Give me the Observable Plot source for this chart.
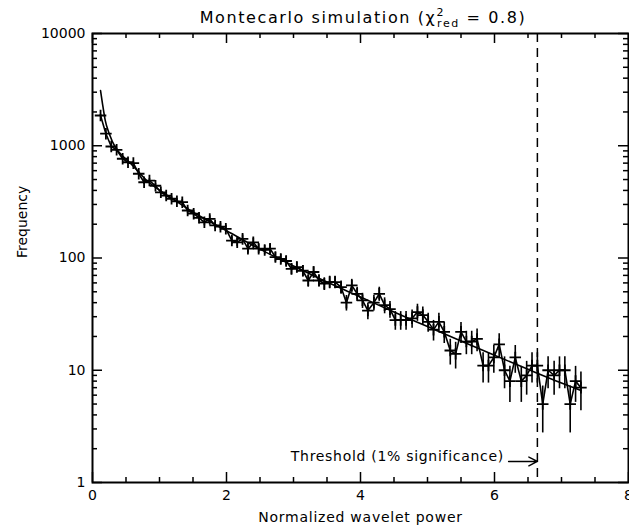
<!DOCTYPE html>
<html><head><meta charset="utf-8">
<script src="https://cdn.jsdelivr.net/npm/d3@7"></script>
<script src="https://cdn.jsdelivr.net/npm/@observablehq/plot@0.6"></script>
<style>
html,body{margin:0;padding:0;background:#fff;overflow:hidden;}
</style></head><body><div id="chart"></div>
<script>
// ---- data ----
const binCenters = [0.12,0.20,0.28,0.36,0.45,0.53,0.61,0.69,0.77,0.85,0.94,1.02,1.10,1.18,1.26,1.34,1.42,1.51,1.59,1.67,1.75,1.83,1.91,1.99,2.08,2.16,2.24,2.32,2.40,2.48,2.57,2.65,2.73,2.81,2.89,2.97,3.05,3.14,3.22,3.30,3.38,3.46,3.54,3.62,3.71,3.79,3.87,3.95,4.03,4.11,4.20,4.28,4.36,4.44,4.52,4.60,4.68,4.77,4.85,4.93,5.01,5.09,5.17,5.25,5.34,5.42,5.50,5.58,5.66,5.74,5.83,5.91,5.99,6.07,6.15,6.23,6.31,6.40,6.48,6.56,6.64,6.72,6.80,6.89,6.97,7.05,7.13,7.21,7.29];
const counts = [1860,1280,985,920,766,713,700,563,473,490,440,385,360,337,320,314,265,248,228,208,223,195,190,182,143,138,148,121,138,121,118,121,102,98,94,80,83,77,63,75,63,59,61,61,55,40,57,48,42,34,40,48,38,35,28,28,28,29,33,31,27,23,27,22,15,14,22,18,18,19,11,11,13,17,10,8,13,8,9,11,11,5,10,9,10,10,5,8,7];
const fitX = [0.12,0.15,0.19,0.25,0.34,0.45,0.565,0.81,1.16,1.46,1.8,2.0,2.5,3.0,3.5,4.0,4.5,5.0,5.5,6.0,6.5,7.0,7.29];
const fitY = [3100,2350,1680,1280,970,810,700,490,348,265,203,175,120,85,61,45,33,24.5,18.2,13.6,10.2,7.7,6.6];
const xMajorTicks = [0,2,4,6,8];
const xMinorTicks = [0.5,1,1.5,2.5,3,3.5,4.5,5,5.5,6.5,7,7.5];
const yMajorTicks = [1,10,100,1000,10000];
const yMinorTicks = [2,3,4,5,6,7,8,9,20,30,40,50,60,70,80,90,200,300,400,500,600,700,800,900,2000,3000,4000,5000,6000,7000,8000,9000];
const threshold = 6.64;
const thresholdLabel = "Threshold (1% significance)";
const labelPos = {x: 6.14, y: 1.72};
const arrowPos = {x1: 6.21, x2: 6.64, y: 1.54};

// ---- layout ----
const W = 629, H = 531, mt = 33, mb = 49, ml = 92, mr = 1;
const ppd = (H - mt - mb) / 4;      // pixels per decade
const ppx = (W - ml - mr) / 8;      // pixels per x unit
const up = px => 10 ** (px / ppd);
const FONT = "DejaVu Sans";

const data = binCenters.map((x, i) => ({x, c: counts[i]}));
const fit = fitX.map((x, i) => ({x, y: fitY[i]}));

const svg = Plot.plot({
  width: W, height: H,
  marginTop: mt, marginBottom: mb, marginLeft: ml, marginRight: mr,
  style: {fontFamily: FONT, fontSize: "14px", background: "white", color: "black", overflow: "visible"},
  x: {domain: [0, 8]},
  y: {type: "log", domain: [1, 10000]},
  marks: [
    // inward ticks on all four sides
    Plot.ruleX(xMajorTicks, {y1: 1, y2: up(10), strokeWidth: 1.5}),
    Plot.ruleX(xMinorTicks, {y1: 1, y2: up(5), strokeWidth: 1.5}),
    Plot.ruleX(xMajorTicks, {y1: 10000, y2: 10000 / up(10), strokeWidth: 1.5}),
    Plot.ruleX(xMinorTicks, {y1: 10000, y2: 10000 / up(5), strokeWidth: 1.5}),
    Plot.ruleY(yMajorTicks, {x1: 0, x2: 10 / ppx, strokeWidth: 1.5}),
    Plot.ruleY(yMinorTicks, {x1: 0, x2: 5 / ppx, strokeWidth: 1.5}),
    Plot.ruleY(yMajorTicks, {x1: 8, x2: 8 - 10 / ppx, strokeWidth: 1.5}),
    Plot.ruleY(yMinorTicks, {x1: 8, x2: 8 - 5 / ppx, strokeWidth: 1.5}),
    Plot.frame({stroke: "black", strokeWidth: 2}),
    Plot.axisX(xMajorTicks, {tickSize: 0, tickPadding: 8, fontSize: 14, fontFamily: FONT}),
    Plot.axisY(yMajorTicks, {tickSize: 0, tickPadding: 7, fontSize: 14, fontFamily: FONT, tickFormat: d => String(d)}),
    Plot.text(["Normalized wavelet power"], {frameAnchor: "bottom", dy: 39, fontSize: 14, fontFamily: FONT, fill: "black"}),
    Plot.text(["Frequency"], {frameAnchor: "left", dx: -70, rotate: -90, fontSize: 14, fontFamily: FONT, fill: "black"}),
    // data
    Plot.ruleX(data, {x: "x", y1: d => d.c - Math.sqrt(d.c), y2: d => d.c + Math.sqrt(d.c), stroke: "black", strokeWidth: 1.6}),
    Plot.line(data, {x: "x", y: "c", stroke: "black", strokeWidth: 1.6}),
    Plot.dot(data, {x: "x", y: "c", symbol: "plus", r: 3.8, stroke: "black", strokeWidth: 1.8}),
    Plot.line(fit, {x: "x", y: "y", curve: "monotone-x", stroke: "black", strokeWidth: 1.6}),
    // threshold
    Plot.ruleX([threshold], {stroke: "black", strokeWidth: 1.5, strokeDasharray: "9,6"}),
    Plot.arrow([arrowPos], {x1: "x1", x2: "x2", y1: "y", y2: "y", stroke: "black", strokeWidth: 1.4, headLength: 18, headAngle: 55}),
    Plot.text([labelPos], {x: "x", y: "y", text: () => thresholdLabel, textAnchor: "end", fontSize: 14, fontFamily: FONT, fill: "black"})
  ]
});

// wide, Hershey-like letter spacing for a few texts
d3.select(svg).selectAll("text").filter(function() { return this.textContent === thresholdLabel; })
  .style("letter-spacing", "0.7px");
d3.select(svg).selectAll("text").filter(function() { return this.textContent === "Normalized wavelet power"; })
  .style("letter-spacing", "0.75px");

// title with super/subscript
const t = d3.select(svg).append("text")
  .attr("x", ml + (W - ml - mr) / 2 + 3).attr("y", 23)
  .attr("text-anchor", "middle").attr("font-family", FONT).attr("font-size", 16).attr("fill", "black")
  .style("letter-spacing", "1.6px");
t.append("tspan").text("Montecarlo simulation (\u03C7");
t.append("tspan").attr("font-size", 11).attr("dy", -7).text("2");
t.append("tspan").attr("font-size", 11).attr("dx", -8).attr("dy", 11).text("red");
t.append("tspan").attr("dy", -4).text(" = 0.8)");

document.getElementById("chart").appendChild(svg);
</script></body></html>
